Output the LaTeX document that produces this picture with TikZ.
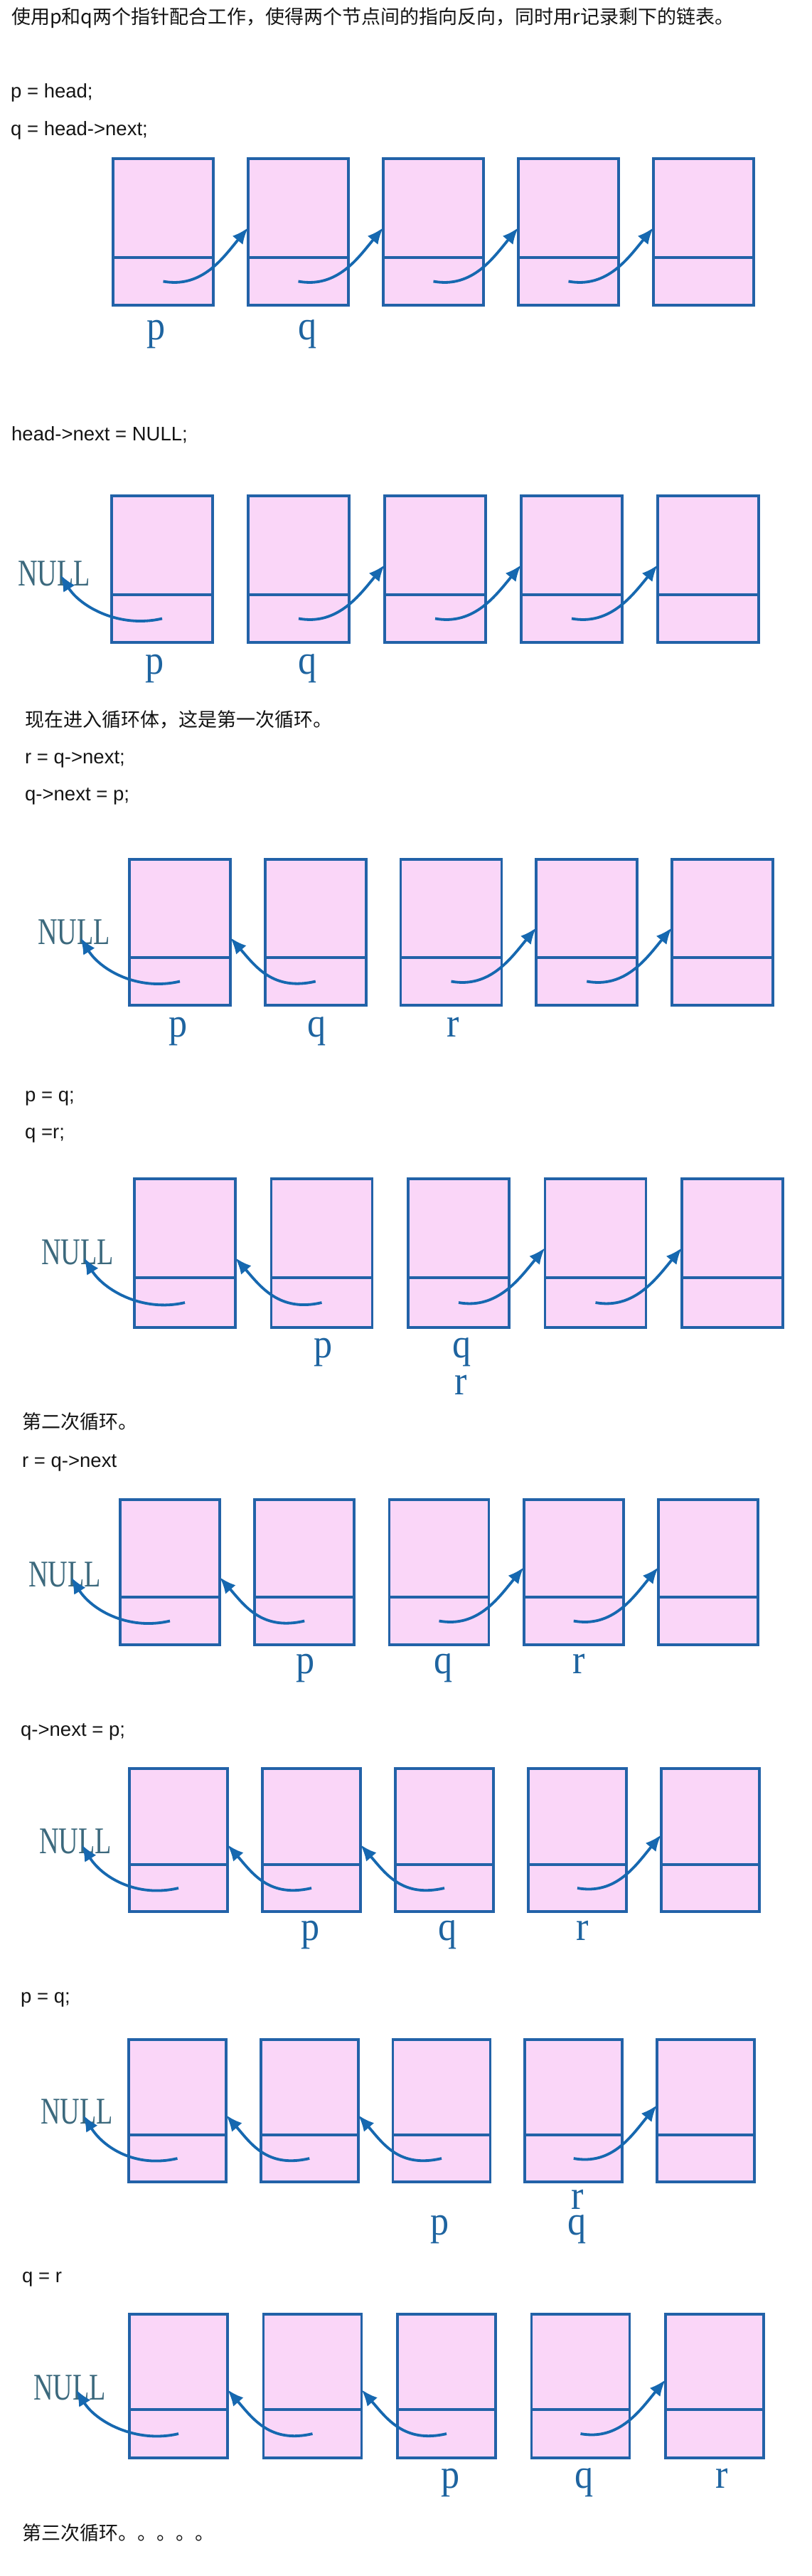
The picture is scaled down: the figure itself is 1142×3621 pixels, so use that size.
\documentclass[tikz,border=0pt]{standalone}
\usepackage{fontspec}
\usepackage{graphicx}
\setmainfont{Liberation Sans}
\newfontfamily\cjkfont{Noto Sans CJK SC}
\newfontfamily\labfont[FakeStretch=0.9]{Liberation Serif}
\newfontfamily\nullfam[FakeStretch=0.72]{Liberation Serif}
\usetikzlibrary{arrows.meta}
\definecolor{boxblue}{RGB}{34,98,168}
\definecolor{pinkfill}{RGB}{250,214,248}
\definecolor{arrowblue}{RGB}{22,104,176}
\definecolor{labblue}{RGB}{30,100,160}
\definecolor{nullcol}{RGB}{60,105,125}
\definecolor{txt}{RGB}{20,20,20}
\tikzset{
  code/.style={anchor=base west, inner sep=0pt, font=\fontsize{27.5}{30}\selectfont, text=txt},
  cjkline/.style={anchor=base west, inner sep=0pt, font=\cjkfont\fontsize{27}{30}\selectfont, text=txt},
  databox/.style={draw=boxblue, fill=pinkfill, line width=3.8pt, anchor=north west, inner sep=0pt, outer sep=0pt},
  divline/.style={draw=boxblue, line width=3.8pt},
  ptr/.style={draw=arrowblue, line width=3.8pt, -{Latex[length=23pt,width=19pt]}},
  lab/.style={anchor=base, inner sep=0pt, font=\labfont\fontsize{58}{60}\selectfont, text=labblue},
  nulllab/.style={anchor=base west, inner sep=0pt, font=\nullfam\fontsize{53}{56}\selectfont, text=nullcol},
}
% #1 id, #2 first left x, #3 pitch, #4 width, #5 top, #6 divider, #7 bottom
\newcommand\drawpanel[7]{%
  \foreach \j in {1,...,5}{%
    \pgfmathsetmacro\xl{#2+(\j-1)*#3}%
    \pgfmathsetmacro\xr{\xl+#4}%
    \pgfmathsetmacro\xc{\xl+#4/2}%
    \pgfmathsetmacro\ly{(#6+#7)/2}%
    \pgfmathsetmacro\hh{#7-#5}%
    \pgfmathsetmacro\fy{#6-42}%
    \pgfmathsetmacro\ry{#6-28}%
    \node[databox, minimum width=#4pt, minimum height=\hh pt] (#1-\j) at (\xl,#5) {};
    \draw[divline] (\xl,#6) -- (\xr,#6);
    \coordinate (#1-\j-s) at (\xc,\ly);
    \coordinate (#1-\j-L) at (\xl,\fy);
    \coordinate (#1-\j-R) at (\xr,\ry);
  }%
}
% #1 id, #2 left x of NULL, #3 baseline, #4 divider
\newcommand\nullnode[4]{%
  \node[nulllab] (#1-null) at (#2,#3) {NULL};
  \pgfmathsetmacro\tx{#2+60}%
  \pgfmathsetmacro\ty{#4-28}%
  \coordinate (#1-null-t) at (\tx,\ty);
}
\newcommand\fwd[3]{\draw[ptr] (#1-#2-s) .. controls +(55,10) and +(-35,42) .. (#1-#3-L);}
\newcommand\rev[3]{\draw[ptr] (#1-#2-s) .. controls +(-60,14) and +(35,40) .. (#1-#3-R);}
\newcommand\tonull[1]{\draw[ptr] (#1-1-s) .. controls +(-60,14) and +(28,45) .. (#1-null-t);}
\begin{document}
\begin{tikzpicture}[x=1pt,y=-1pt]
\fill[white] (0,0) rectangle (1142,3621);
\useasboundingbox (0,0) rectangle (1142,3621);

% texts
\node[cjkline] (t1) at (16,34) {使用p和q两个指针配合工作，使得两个节点间的指向反向，同时用r记录剩下的链表。};
\node[code] (t2) at (15,138) {p = head;};
\node[code] (t3) at (15,190) {q = head->next;};
\node[code] (t4) at (16,619) {head->next = NULL;};
\node[cjkline] (t5) at (35,1021) {现在进入循环体，这是第一次循环。};
\node[code] (t6) at (35,1073) {r = q->next;};
\node[code] (t7) at (35,1125) {q->next = p;};
\node[code] (t8) at (35,1548) {p = q;};
\node[code] (t9) at (35,1600) {q =r;};
\node[cjkline] (t10) at (31,2008) {第二次循环。};
\node[code] (t11) at (31,2062) {r = q->next};
\node[code] (t12) at (29,2440) {q->next = p;};
\node[code] (t13) at (29,2815) {p = q;};
\node[code] (t14) at (31,3208) {q = r};
\node[cjkline] (t15) at (31,3570) {第三次循环。。。。。};

% panel 1
\drawpanel{P1}{159}{190}{141}{223}{362}{429}
\fwd{P1}{1}{2}\fwd{P1}{2}{3}\fwd{P1}{3}{4}\fwd{P1}{4}{5}
\node[lab] (P1p) at (220,477) {p};
\node[lab] (P1q) at (433,477) {q};

% panel 2
\drawpanel{P2}{157}{192}{142}{697}{836}{903}
\nullnode{P2}{25}{823}{836}
\tonull{P2}\fwd{P2}{2}{3}\fwd{P2}{3}{4}\fwd{P2}{4}{5}
\node[lab] (P2p) at (218,947) {p};
\node[lab] (P2q) at (433,947) {q};

% panel 3
\drawpanel{P3}{182}{190.75}{142}{1208}{1346}{1413}
\nullnode{P3}{53}{1327}{1346}
\tonull{P3}\rev{P3}{2}{1}\fwd{P3}{3}{4}\fwd{P3}{4}{5}
\node[lab] (P3p) at (251,1457) {p};
\node[lab] (P3q) at (446,1457) {q};
\node[lab] (P3r) at (637,1457) {r};

% panel 4
\drawpanel{P4}{189}{192.5}{142}{1657}{1796}{1866}
\nullnode{P4}{58}{1777}{1796}
\tonull{P4}\rev{P4}{2}{1}\fwd{P4}{3}{4}\fwd{P4}{4}{5}
\node[lab] (P4p) at (455,1908) {p};
\node[lab] (P4q) at (650,1908) {q};
\node[lab] (P4r) at (648,1960) {r};

% panel 5
\drawpanel{P5}{169}{189.25}{140}{2108}{2245}{2312}
\nullnode{P5}{40}{2230}{2245}
\tonull{P5}\rev{P5}{2}{1}\fwd{P5}{3}{4}\fwd{P5}{4}{5}
\node[lab] (P5p) at (430,2352) {p};
\node[lab] (P5q) at (624,2352) {q};
\node[lab] (P5r) at (814,2352) {r};

% panel 6
\drawpanel{P6}{182}{187}{138}{2486}{2621}{2687}
\nullnode{P6}{55}{2605}{2621}
\tonull{P6}\rev{P6}{2}{1}\rev{P6}{3}{2}\fwd{P6}{4}{5}
\node[lab] (P6p) at (437,2727) {p};
\node[lab] (P6q) at (630,2727) {q};
\node[lab] (P6r) at (819,2727) {r};

% panel 7
\drawpanel{P7}{181}{185.75}{137}{2867}{3001}{3067}
\nullnode{P7}{57}{2985}{3001}
\tonull{P7}\rev{P7}{2}{1}\rev{P7}{3}{2}\fwd{P7}{4}{5}
\node[lab] (P7r) at (812,3105) {r};
\node[lab] (P7p) at (619,3141) {p};
\node[lab] (P7q) at (812,3141) {q};

% panel 8
\drawpanel{P8}{182}{188.5}{138}{3253}{3387}{3455}
\nullnode{P8}{47}{3373}{3387}
\tonull{P8}\rev{P8}{2}{1}\rev{P8}{3}{2}\fwd{P8}{4}{5}
\node[lab] (P8p) at (634,3497) {p};
\node[lab] (P8q) at (822,3497) {q};
\node[lab] (P8r) at (1015,3497) {r};
\end{tikzpicture}
\end{document}
